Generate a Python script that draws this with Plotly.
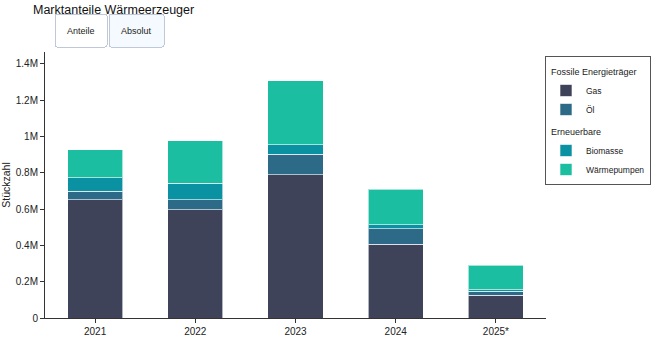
import plotly.graph_objects as go

years = ["2021", "2022", "2023", "2024", "2025*"]
gas = [650000, 595000, 790000, 407000, 126000]
oel = [47000, 56000, 112000, 85000, 22000]
biomasse = [76000, 90000, 52000, 22000, 8000]
waermepumpen = [154000, 234000, 354000, 194000, 134000]

series = [
    ("Gas", gas, "#3e435a", "fossil", "Fossile Energieträger"),
    ("Öl", oel, "#2c6a88", "fossil", "Fossile Energieträger"),
    ("Biomasse", biomasse, "#0a91a2", "ren", "Erneuerbare"),
    ("Wärmepumpen", waermepumpen, "#1bbea0", "ren", "Erneuerbare"),
]

fig = go.Figure()
for name, vals, color, grp, gtitle in series:
    fig.add_trace(go.Bar(
        x=years, y=vals, name=name, marker_color=color,
        marker_line=dict(color="rgba(255,255,255,0.6)", width=1),
        legendgroup=grp,
        legendgrouptitle=dict(text=gtitle, font=dict(size=9, color="#222")),
    ))

font = "Liberation Sans, Arial, sans-serif"
fig.update_layout(
    template="simple_white",
    width=662, height=348,
    margin=dict(l=45, r=115, t=52, b=30),
    barmode="stack",
    bargap=0.45,
    font=dict(family=font, size=10, color="#222"),
    title=dict(text="Marktanteile Wärmeerzeuger", x=33/662, xanchor="left",
               y=0.985, yanchor="top", xref="container", yref="container",
               font=dict(size=12.5, color="#111")),
    yaxis=dict(title=dict(text="Stückzahl", font=dict(size=10.5)),
               range=[0, 1465000], ticklen=4, tickfont=dict(size=10),
               linecolor="#333", tickcolor="#333", automargin=False),
    xaxis=dict(ticklen=4, tickfont=dict(size=10), linecolor="#333", tickcolor="#333",
               automargin=False),
    legend=dict(x=0.996, xanchor="left", y=0.985, yanchor="top",
                bordercolor="#555", borderwidth=1, font=dict(size=8.5),
                traceorder="grouped", tracegroupgap=3),
    updatemenus=[dict(
        type="buttons", direction="right", active=1,
        x=(54-45)/502, xanchor="left", y=(318-13)/266, yanchor="top",
        pad=dict(l=0, r=0, t=0, b=0),
        font=dict(size=9, color="#222"),
        bordercolor="#BEC8D9", bgcolor="#ffffff",
        showactive=True,
        buttons=[
            dict(label="Anteile", method="relayout",
                 args=[{"barnorm": "percent", "yaxis.range": [0, 100], "yaxis.title.text": "Anteil (%)"}]),
            dict(label="Absolut", method="relayout",
                 args=[{"barnorm": "", "yaxis.range": [0, 1465000], "yaxis.title.text": "Stückzahl"}]),
        ],
    )],
)

fig.write_html("out.html")
